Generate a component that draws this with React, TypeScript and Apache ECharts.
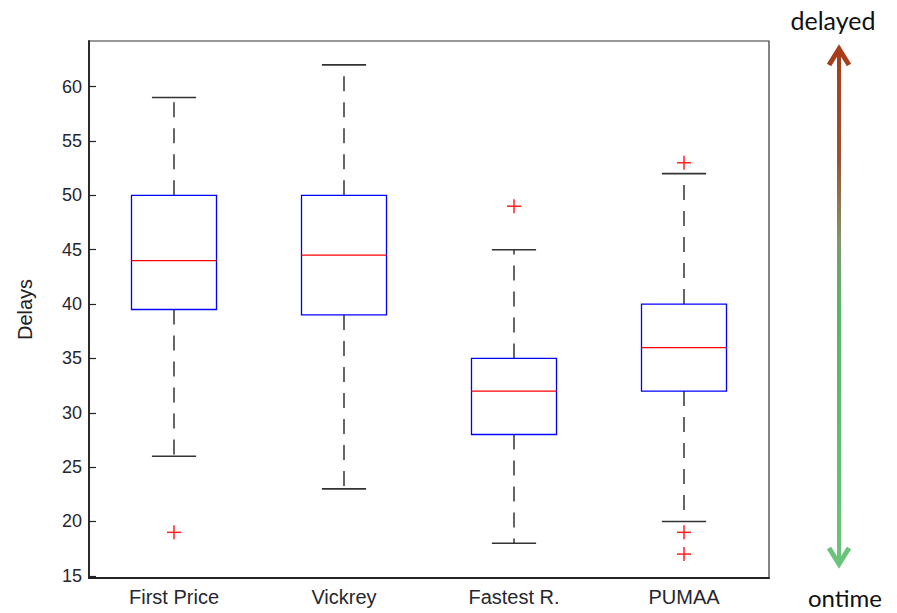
import React, { useEffect, useRef } from "react";
import * as echarts from "echarts";

const categories = ["First Price", "Vickrey", "Fastest R.", "PUMAA"];
const whiskerLow = [26, 23, 18, 20];
const q1 = [39.5, 39, 28, 32];
const medians = [44, 44.5, 32, 36];
const q3 = [50, 50, 35, 40];
const whiskerHigh = [59, 62, 45, 52];
// [category index, value]
const outliers: [number, number][] = [
  [0, 19],
  [2, 49],
  [3, 53],
  [3, 19],
  [3, 17],
];
const yTicks = [15, 20, 25, 30, 35, 40, 45, 50, 55, 60];

export default function App() {
  const ref = useRef<HTMLDivElement>(null);
  useEffect(() => {
    if (!ref.current) return;
    const chart = echarts.init(ref.current, undefined, { renderer: "svg" });
    const boxData = categories.map((_, i) => [i, whiskerLow[i], q1[i], medians[i], q3[i], whiskerHigh[i]]);
    const arrowGrad = new echarts.graphic.LinearGradient(
      0, 45, 0, 567,
      [
        { offset: 0, color: "#a83c18" },
        { offset: 0.22, color: "#9a5230" },
        { offset: 0.38, color: "#80986c" },
        { offset: 0.5, color: "#58b46a" },
        { offset: 1, color: "#6cc47c" },
      ],
      true
    );
    chart.setOption({
      animation: false,
      grid: {
        left: 89,
        right: 128,
        top: 41,
        bottom: 35,
        show: true,
        borderColor: "#333",
        borderWidth: 1.2,
      },
      xAxis: {
        type: "category",
        data: categories,
        boundaryGap: true,
        axisLine: { lineStyle: { color: "#222", width: 1.8 } },
        axisTick: { show: false },
        axisLabel: { color: "#262630", fontSize: 20, fontFamily: "Liberation Sans", margin: 9 },
        splitLine: { show: false },
      },
      yAxis: {
        type: "value",
        min: 14.8,
        max: 64.2,
        name: "Delays",
        nameLocation: "middle",
        nameGap: 54,
        nameTextStyle: { color: "#222", fontSize: 20, fontFamily: "Liberation Sans" },
        axisLine: { show: true, lineStyle: { color: "#222", width: 1.8 } },
        axisTick: { show: true, inside: true, length: 7, customValues: yTicks, lineStyle: { color: "#222", width: 1.2 } },
        axisLabel: { color: "#262630", fontSize: 18, fontFamily: "Liberation Sans", margin: 7, customValues: yTicks },
        splitLine: { show: false },
      },
      series: [
        {
          type: "custom",
          data: boxData,
          renderItem: (params: any, api: any) => {
            const x = api.value(0);
            const lo = api.coord([x, api.value(1)]);
            const b1 = api.coord([x, api.value(2)]);
            const md = api.coord([x, api.value(3)]);
            const b3 = api.coord([x, api.value(4)]);
            const hi = api.coord([x, api.value(5)]);
            const band = api.size([1, 0])[0];
            const hw = band * 0.25;
            const cw = band * 0.13;
            const cx = lo[0];
            return {
              type: "group",
              children: [
                { type: "line", shape: { x1: cx, y1: b3[1], x2: cx, y2: hi[1] }, style: { stroke: "#404040", lineWidth: 1.6, lineDash: [15, 11] } },
                { type: "line", shape: { x1: cx, y1: b1[1], x2: cx, y2: lo[1] }, style: { stroke: "#404040", lineWidth: 1.6, lineDash: [15, 11] } },
                { type: "line", shape: { x1: cx - cw, y1: hi[1], x2: cx + cw, y2: hi[1] }, style: { stroke: "#333", lineWidth: 1.6 } },
                { type: "line", shape: { x1: cx - cw, y1: lo[1], x2: cx + cw, y2: lo[1] }, style: { stroke: "#333", lineWidth: 1.6 } },
                { type: "rect", shape: { x: cx - hw, y: b3[1], width: hw * 2, height: b1[1] - b3[1] }, style: { fill: "none", stroke: "#0000ff", lineWidth: 1.3 } },
                { type: "line", shape: { x1: cx - hw, y1: md[1], x2: cx + hw, y2: md[1] }, style: { stroke: "#ff0000", lineWidth: 1.2 } },
              ],
            };
          },
          z: 3,
        },
        {
          type: "custom",
          data: outliers,
          renderItem: (params: any, api: any) => {
            const p = api.coord([api.value(0), api.value(1)]);
            const s = 7;
            return {
              type: "group",
              children: [
                { type: "line", shape: { x1: p[0] - s, y1: p[1], x2: p[0] + s, y2: p[1] }, style: { stroke: "#ff2020", lineWidth: 1.5 } },
                { type: "line", shape: { x1: p[0], y1: p[1] - s, x2: p[0], y2: p[1] + s }, style: { stroke: "#ff2020", lineWidth: 1.5 } },
              ],
            };
          },
          z: 4,
        },
      ],
      graphic: [
        { type: "line", shape: { x1: 839, y1: 49, x2: 839, y2: 563 }, style: { stroke: arrowGrad, lineWidth: 4 } },
        { type: "polyline", shape: { points: [[829, 65], [839, 49], [849, 65]] }, style: { stroke: arrowGrad, lineWidth: 5, fill: "none", lineJoin: "miter" } },
        { type: "polyline", shape: { points: [[829, 548], [839, 564], [849, 548]] }, style: { stroke: arrowGrad, lineWidth: 5, fill: "none", lineJoin: "miter" } },
        { type: "text", x: 833, y: 20, style: { text: "delayed", fill: "#111", font: "25px Lato", align: "center", verticalAlign: "middle" } },
        { type: "text", x: 845, y: 597, style: { text: "ontime", fill: "#111", font: "24px Lato", align: "center", verticalAlign: "middle" } },
      ],
    });
    return () => chart.dispose();
  }, []);
  return <div ref={ref} style={{ width: 897, height: 613, position: "absolute", left: 0, top: 0 }} />;
}
